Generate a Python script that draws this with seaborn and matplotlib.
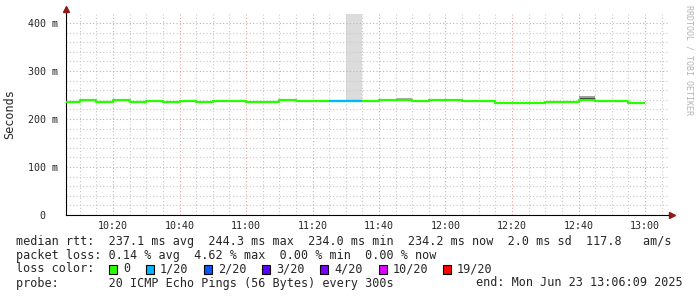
import matplotlib
matplotlib.use("Agg")
import matplotlib.pyplot as plt
import seaborn as sns
import pandas as pd
from matplotlib.patches import Rectangle

# ---------------- data ----------------
interval_start = ["10:05", "10:10", "10:15", "10:20", "10:25", "10:30", "10:35",
                  "10:40", "10:45", "10:50", "10:55", "11:00", "11:05", "11:10",
                  "11:15", "11:20", "11:25", "11:30", "11:35", "11:40", "11:45",
                  "11:50", "11:55", "12:00", "12:05", "12:10", "12:15", "12:20",
                  "12:25", "12:30", "12:35", "12:40", "12:45", "12:50", "12:55"]
median_ms = [236.0, 239.5, 236.0, 239.5, 236.0, 238.0, 236.0,
             237.0, 236.0, 237.5, 237.5, 235.0, 236.0, 239.5,
             237.0, 237.0, 237.0, 237.0, 238.0, 238.8, 238.8,
             236.5, 239.0, 239.8, 236.5, 238.0, 234.0, 234.0,
             234.0, 235.5, 235.0, 239.6, 237.0, 238.0, 234.0]
loss = ["0"] * 16 + ["1/20", "1/20"] + ["0"] * 17

smoke_start = ["11:30", "11:45", "12:40", "12:40"]
smoke_low = [237.0, 239.5, 240.5, 244.2]
smoke_high = [440.0, 244.5, 244.2, 247.8]
smoke_color = ["#dcdcdc", "#a8a8a8", "#3c3c3c", "#a0a0a0"]

loss_labels = ["0", "1/20", "2/20", "3/20", "4/20", "10/20", "19/20"]
loss_colors = ["#26ff00", "#00b8ff", "#0059ff", "#5e00ff", "#7e00ff", "#dd00ff", "#ff0000"]

y_ticks = [0, 100, 200, 300, 400]
y_tick_labels = ["0  ", "100 m", "200 m", "300 m", "400 m"]
x_tick_labels = ["10:20", "10:40", "11:00", "11:20", "11:40", "12:00", "12:20", "12:40", "13:00"]

stats_lines = [
    "median rtt:  237.1 ms avg  244.3 ms max  234.0 ms min  234.2 ms now  2.0 ms sd  117.8   am/s",
    "packet loss: 0.14 % avg  4.62 % max  0.00 % min  0.00 % now",
]
probe_text = "probe:       20 ICMP Echo Pings (56 Bytes) every 300s"
end_text = "end: Mon Jun 23 13:06:09 2025"


def to_min(s):
    h, m = s.split(":")
    return (int(h) - 10) * 60 + int(m)


# ---------------- figure ----------------
sns.set_style("white")
plt.rcParams["font.family"] = ["DejaVu Sans Mono"]

W, H = 697, 297
fig = plt.figure(figsize=(W / 100, H / 100), dpi=100)
px_l, px_r, px_t, px_b = 66, 668, 14, 215
ax = fig.add_axes([px_l / W, 1 - px_b / H, (px_r - px_l) / W, (px_b - px_t) / H])

ppm = (645 - 113) / 160.0          # pixels per minute
x0 = 20 - (113 - px_l) / ppm       # 10:20 is minute 20, at pixel 113
x1 = x0 + (px_r - px_l) / ppm
ppv = (215 - 23) / 400.0           # pixels per ms
ax.set_xlim(x0, x1)
ax.set_ylim(0, (px_b - px_t) / ppv)

t = [to_min(s) for s in interval_start]

# smoke
for s, lo, hi, c in zip(smoke_start, smoke_low, smoke_high, smoke_color):
    ax.bar(to_min(s), hi - lo, bottom=lo, width=5, align="edge", color=c,
           linewidth=0, zorder=1)

# median line (steps)
df_all = pd.DataFrame({"t": t + [t[-1] + 5], "rtt": median_ms + [median_ms[-1]]})
sns.lineplot(data=df_all, x="t", y="rtt", estimator=None, sort=False,
             drawstyle="steps-post", color=loss_colors[0], linewidth=1.6,
             ax=ax, zorder=3)

# coloured segments for intervals with loss
rows = []
for i, (ts, v, l) in enumerate(zip(t, median_ms, loss)):
    if l != "0":
        rows.append({"seg": i, "t": ts, "rtt": v, "loss": l})
        rows.append({"seg": i, "t": ts + 5, "rtt": v, "loss": l})
df_loss = pd.DataFrame(rows)
sns.lineplot(data=df_loss, x="t", y="rtt", units="seg", estimator=None,
             hue="loss", palette=dict(zip(loss_labels, loss_colors)),
             linewidth=1.6, legend=False, ax=ax, zorder=4)
for ln in ax.lines:
    ln.set_solid_capstyle("butt")

# ticks & grid
ax.set_xticks([to_min(s) for s in x_tick_labels])
ax.set_xticklabels(x_tick_labels)
ax.set_xticks(list(range(10, 190, 5)), minor=True)
ax.set_yticks(y_ticks)
ax.set_yticklabels(y_tick_labels)
ax.set_yticks(list(range(0, 420, 20)), minor=True)
ax.set_axisbelow("line")
ax.grid(which="major", color="#e8a0a0", linestyle=(0, (1, 2)), linewidth=0.8)
ax.grid(which="minor", color="#c8c8c8", linestyle=(0, (1, 2)), linewidth=0.8)
ax.tick_params(which="both", direction="out", length=2, width=0.7, color="#333333")
ax.tick_params(axis="y", labelsize=7.2, pad=3.5)
ax.tick_params(axis="x", labelsize=7.2, pad=2.5)
ax.set_xlabel("")
ax.set_ylabel("Seconds", fontsize=8.5, labelpad=9)

for side in ["top", "right"]:
    ax.spines[side].set_visible(False)
for side in ["left", "bottom"]:
    ax.spines[side].set_color("black")
    ax.spines[side].set_linewidth(0.8)

# arrows
ax.plot([0, 0], [1, 1.02], transform=ax.transAxes, clip_on=False, color="black", lw=0.8)
ax.plot(0, 1.025, marker="^", ms=4, color="#8b1a1a", transform=ax.transAxes, clip_on=False)
ax.plot([1, 1.003], [0, 0], transform=ax.transAxes, clip_on=False, color="black", lw=0.8)
ax.plot(1.006, 0, marker=">", ms=4, color="#8b1a1a", transform=ax.transAxes, clip_on=False)

# watermark
fig.text(689 / W, 1 - 5 / H, "RRDTOOL / TOBI OETIKER", rotation=270, ha="center",
         va="top", fontsize=6, color="#b4b4b4")

# legend / stats text
def fy(py):
    return 1 - py / H

fs = 8.5
fig.text(16 / W, fy(241), stats_lines[0], fontsize=fs, va="center", ha="left")
fig.text(16 / W, fy(255), stats_lines[1], fontsize=fs, va="center", ha="left")
fig.text(16 / W, fy(269), "loss color:", fontsize=fs, va="center", ha="left")
box_x = [109, 146, 204, 262, 320, 379, 443]
for bx, lab, col in zip(box_x, loss_labels, loss_colors):
    fig.patches.append(Rectangle((bx / W, fy(274)), 8 / W, 9 / H, transform=fig.transFigure,
                                 facecolor=col, edgecolor="black", linewidth=0.8))
    fig.text((bx + 14) / W, fy(269), lab, fontsize=fs, va="center", ha="left")
fig.text(16 / W, fy(283), probe_text, fontsize=fs, va="center", ha="left")
fig.text(683 / W, fy(283), end_text, fontsize=fs, va="center", ha="right")

fig.savefig("out.png", dpi=100)
